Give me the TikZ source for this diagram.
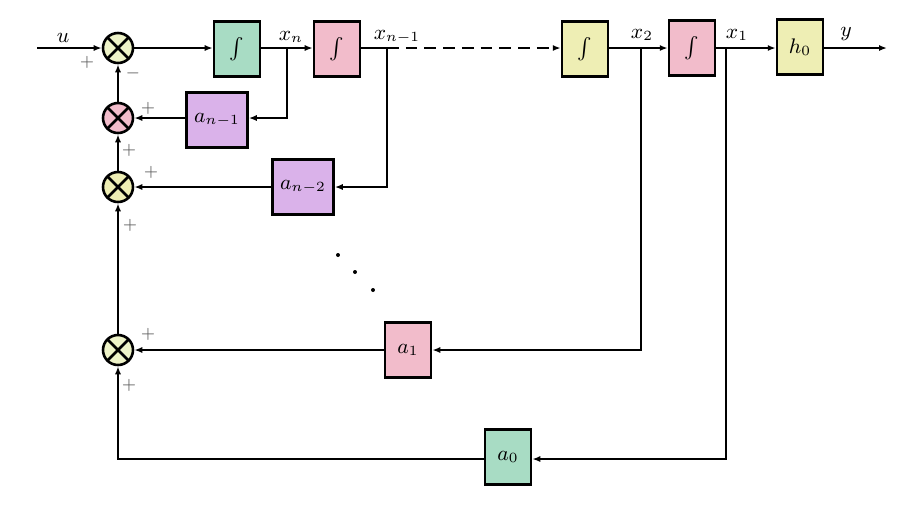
\documentclass[tikz,border=0pt]{standalone}
\usepackage{amsmath}
\usetikzlibrary{arrows.meta}

\definecolor{cgreen}{HTML}{A8DCC4}
\definecolor{cpink}{HTML}{F2BCCB}
\definecolor{cyel}{HTML}{EEEEB4}
\definecolor{cpurple}{HTML}{DAB2EA}
\definecolor{csum}{HTML}{EEF3C8}

\begin{document}
\begin{tikzpicture}[x=0.015cm, y=-0.015cm, line width=0.85pt,
  >={Latex[length=3.4pt,width=2.6pt]},
  blk/.style={draw, line width=1.1pt, minimum width=0.69cm, minimum height=0.825cm,
    inner sep=0pt, font=\small},
  gain/.style={blk, minimum width=0.915cm},
  sum/.style={circle, draw, line width=1.1pt, minimum size=0.45cm, inner sep=0pt,
    path picture={\draw (path picture bounding box.north west) -- (path picture bounding box.south east)
      (path picture bounding box.north east) -- (path picture bounding box.south west);}},
  sgn/.style={font=\scriptsize, inner sep=0pt, text=black!65},
  lbl/.style={font=\small, inner sep=0pt}]

\useasboundingbox (0,0) rectangle (908,505);

% summing points
\node[sum, fill=csum] (s1) at (118,48) {};
\node[sum, fill=cpink] (s2) at (118,118) {};
\node[sum, fill=cyel] (s3) at (118,187) {};
\node[sum, fill=csum] (s4) at (118,350) {};

% forward path
\node[blk, fill=cgreen] (i1) at (237,49) {$\int$};
\node[blk, fill=cpink] (i2) at (337,49) {$\int$};
\node[blk, fill=cyel] (i3) at (585,49) {$\int$};
\node[blk, fill=cpink] (i4) at (692,48) {$\int$};
\node[blk, fill=cyel] (h) at (800,47) {$h_0$};

% feedback gains
\node[gain, fill=cpurple] (k1) at (217,120) {$a_{n-1}$};
\node[gain, fill=cpurple] (k2) at (303,187) {$a_{n-2}$};
\node[blk, fill=cpink] (k3) at (408,350) {$a_1$};
\node[blk, fill=cgreen] (k4) at (508,457) {$a_0$};

\coordinate (in) at (37,48);
\coordinate (b1) at (287,48);
\coordinate (b2) at (387,48);
\coordinate (b3) at (641,48);
\coordinate (b4) at (726,48);
\coordinate (out) at (887,48);

\draw[->] (in) -- (s1);
\draw[->] (s1) -- (s1 -| i1.west);
\draw (i1.east |- b1) -- (b1);
\draw[->] (b1) -- (b1 -| i2.west);
\draw (i2.east |- b2) -- (b2);
\draw[->, dash pattern=on 5pt off 3pt] (b2) -- (b2 -| i3.west);
\draw (i3.east |- b3) -- (b3);
\draw[->] (b3) -- (i4);
\draw (i4) -- (b4);
\draw[->] (b4) -- (b4 -| h.west);
\draw[->] (h.east |- out) -- (out);

\draw[->] (b1) |- (k1.east |- s2);
\draw[->] (b2) |- (k2);
\draw[->] (b3) |- (k3);
\draw[->] (b4) |- (k4.east |- 0,459);
\draw[->] (k1.west |- s2) -- (s2);
\draw[->] (k2) -- (s3);
\draw[->] (k3) -- (s4);
\draw[->] (k4.west |- 0,459) -| (s4);
\draw[->] (s2) -- (s1);
\draw[->] (s3) -- (s2);
\draw[->] (s4) -- (s3);

% signals
\node[lbl] (lu) at (63,38) {$u$};
\node[lbl] (lxn) at (291,37) {$x_n$};
\node[lbl] (lxn1) at (397,37) {$x_{n-1}$};
\node[lbl] (lx2) at (642,35) {$x_2$};
\node[lbl] (lx1) at (737,35) {$x_1$};
\node[lbl] (ly) at (846,34) {$y$};

% signs
\node[sgn] (p1) at (87,62) {$+$};
\node[sgn] (m1) at (133,73) {$-$};
\node[sgn] (p2) at (148,108) {$+$};
\node[sgn] (p3) at (129,150) {$+$};
\node[sgn] (p4) at (151,172) {$+$};
\node[sgn] (p5) at (130,225) {$+$};
\node[sgn] (p6) at (148,334) {$+$};
\node[sgn] (p7) at (129,385) {$+$};

\foreach \p in {(338,255),(355,272),(373,290)}
  \fill \p circle (0.85pt);

\end{tikzpicture}
\end{document}
